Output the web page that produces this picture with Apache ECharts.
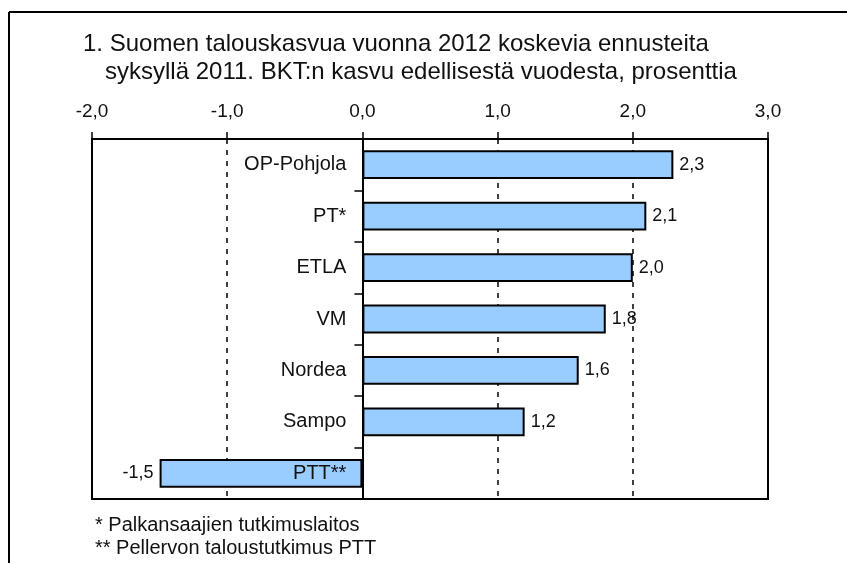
<!DOCTYPE html>
<html>
<head>
<meta charset="utf-8">
<script src="https://cdn.jsdelivr.net/npm/echarts@6/dist/echarts.min.js"></script>
<style>
  html, body { margin: 0; padding: 0; background: #fff; }
  #chart { width: 847px; height: 563px; }
</style>
</head>
<body>
<div id="chart"></div>
<script>
// ennustelaitokset ja BKT-kasvuennusteet 2012
const categories = ['OP-Pohjola', 'PT*', 'ETLA', 'VM', 'Nordea', 'Sampo', 'PTT**']
const values = [2.3, 2.1, 2.0, 1.8, 1.6, 1.2, -1.5]
const xTicks = [-2, -1, 0, 1, 2, 3]
const titleLines = [
  '1. Suomen talouskasvua vuonna 2012 koskevia ennusteita',
  'syksyllä 2011. BKT:n kasvu edellisestä vuodesta, prosenttia',
]
const notes = ['* Palkansaajien tutkimuslaitos', '** Pellervon taloustutkimus PTT']

const font = '"Liberation Sans", Arial, sans-serif'
const fmt = v => v.toFixed(1).replace('.', ',')

// plot area
const gridLeft = 92
const gridRight = 79
const plotW = 847 - gridLeft - gridRight
// y-akseli siirretään nollakohtaan
const zeroOffset = plotW * (0 - xTicks[0]) / (xTicks[xTicks.length - 1] - xTicks[0])

let myCharts = echarts.init(document.getElementById('chart'))
myCharts.setOption({
  animation: false,
  graphic: [
    // ulkokehys (ylä- ja vasen reuna)
    { type: 'line', shape: { x1: 9, y1: 12, x2: 847, y2: 12 }, style: { stroke: '#000', lineWidth: 2 } },
    { type: 'line', shape: { x1: 9, y1: 12, x2: 9, y2: 563 }, style: { stroke: '#000', lineWidth: 2 } },
    { type: 'text', x: 83, y: 44, style: { text: titleLines[0], font: '24px ' + font, fill: '#111', verticalAlign: 'middle' } },
    { type: 'text', x: 105, y: 72, style: { text: titleLines[1], font: '24px ' + font, fill: '#111', verticalAlign: 'middle' } },
    { type: 'text', x: 95, y: 525, style: { text: notes[0], font: '20px ' + font, fill: '#111', verticalAlign: 'middle' } },
    { type: 'text', x: 95, y: 548, style: { text: notes[1], font: '20px ' + font, fill: '#111', verticalAlign: 'middle' } },
  ],
  grid: {
    left: gridLeft,
    right: gridRight,
    top: 139,
    bottom: 64,
    outerBoundsMode: 'none',
    containLabel: false,
    show: true,
    borderColor: '#000',
    borderWidth: 2,
    backgroundColor: 'transparent',
  },
  xAxis: {
    type: 'value',
    position: 'top',
    min: xTicks[0],
    max: xTicks[xTicks.length - 1],
    interval: 1,
    axisLine: { show: true, lineStyle: { color: '#000', width: 2 } },
    axisTick: { show: true, length: 7, lineStyle: { color: '#000', width: 1.5 } },
    axisLabel: {
      margin: 18,
      color: '#111',
      fontSize: 19,
      fontFamily: font,
      formatter: v => fmt(v),
    },
    splitLine: {
      show: true,
      lineStyle: { color: '#000', width: 1.5, type: [5, 6] },
    },
  },
  yAxis: {
    type: 'category',
    inverse: true,
    data: categories,
    z: 5,
    offset: -zeroOffset,
    axisLine: { show: true, onZero: false, lineStyle: { color: '#000', width: 2 } },
    axisTick: { show: true, length: 8, lineStyle: { color: '#000', width: 1.5 } },
    axisLabel: {
      margin: 16,
      color: '#111',
      fontSize: 20,
      fontFamily: font,
    },
    splitLine: { show: false },
  },
  series: [
    {
      type: 'bar',
      barCategoryGap: '44%',
      data: values.map(v => ({
        value: v,
        label: { position: v < 0 ? 'left' : 'right' },
      })),
      itemStyle: {
        color: '#99CCFF',
        borderColor: '#000',
        borderWidth: 2,
      },
      label: {
        show: true,
        distance: 6,
        color: '#111',
        fontSize: 18,
        fontFamily: font,
        formatter: p => fmt(p.value),
      },
    },
  ],
})
</script>
</body>
</html>
